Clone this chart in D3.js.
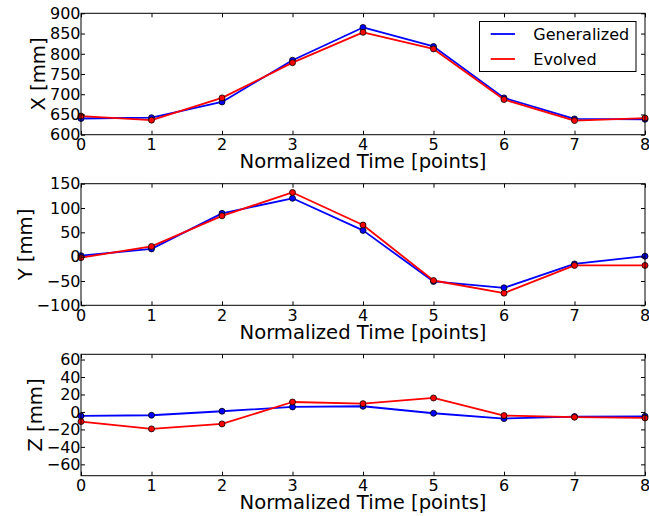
<!DOCTYPE html>
<html>
<head>
<meta charset="utf-8">
<script src="https://cdn.jsdelivr.net/npm/d3@7"></script>
<style>
  html, body { margin: 0; padding: 0; background: #fff; }
  svg { display: block; font-family: "DejaVu Sans", sans-serif; }
</style>
</head>
<body>
<svg id="chart" width="649" height="516"></svg>
<script>
// Normalized time points shared by all three panels
const timePoints = [0, 1, 2, 3, 4, 5, 6, 7, 8];

// Generalized vs evolved trajectory, per coordinate (mm)
const xGeneralized = [640, 642, 681, 784, 865, 818, 691, 639, 638];
const xEvolved     = [646, 636, 691, 778, 853, 812, 687, 635, 641];

const yGeneralized = [2, 16, 89, 120, 54, -51, -64, -15, 1];
const yEvolved     = [-2, 21, 84, 132, 65, -49, -75, -18, -18];

const zGeneralized = [-4.6, -3.8, 0.8, 5.7, 6.5, -1.5, -7.6, -5.3, -5];
const zEvolved     = [-11, -19.4, -13.7, 11.4, 9.5, 16, -4.2, -6, -6.9];

// Tick values for each panel
const xTicks = [600, 650, 700, 750, 800, 850, 900];
const yTicks = [-100, -50, 0, 50, 100, 150];
const zTicks = [-60, -40, -20, 0, 20, 40, 60];

const seriesNames = ["Generalized", "Evolved"];
const seriesColors = ["#0000ff", "#ff0000"];

const svg = d3.select("#chart");
const left = 81, right = 645;

const xScale = d3.scaleLinear().domain([0, 8]).range([left, right]);

const panels = [
  { label: "X [mm]", top: 13.3, bottom: 134.7, domain: [600, 900], ticks: xTicks, series: [xGeneralized, xEvolved], legend: true },
  { label: "Y [mm]", top: 183.7, bottom: 305.3, domain: [-100, 150], ticks: yTicks, series: [yGeneralized, yEvolved] },
  { label: "Z [mm]", top: 354.3, bottom: 475.7, domain: [-73, 66], ticks: zTicks, series: [zGeneralized, zEvolved] }
];

const fmt = v => (v < 0 ? "\u2212" + Math.abs(v) : String(v));

panels.forEach(p => {
  const g = svg.append("g");
  const yScale = d3.scaleLinear().domain(p.domain).range([p.bottom, p.top]);
  const h = p.bottom - p.top;

  // data lines and markers
  p.series.forEach((vals, si) => {
    const pts = timePoints.map((t, i) => [xScale(t), yScale(vals[i])]);
    g.append("path")
      .attr("d", d3.line()(pts))
      .attr("fill", "none")
      .attr("stroke", seriesColors[si])
      .attr("stroke-width", 1.8)
      .attr("stroke-linejoin", "round");
    g.selectAll(null).data(pts).enter().append("circle")
      .attr("cx", d => d[0]).attr("cy", d => d[1])
      .attr("r", 3)
      .attr("fill", seriesColors[si])
      .attr("stroke", "#000")
      .attr("stroke-width", 0.8);
  });

  // inward ticks on all four sides
  const bottomAxis = d3.axisBottom(xScale).tickValues(timePoints).tickSizeInner(-4).tickSizeOuter(0).tickFormat("");
  const topAxis = d3.axisTop(xScale).tickValues(timePoints).tickSizeInner(-4).tickSizeOuter(0).tickFormat("");
  const leftAxis = d3.axisLeft(yScale).tickValues(p.ticks).tickSizeInner(-4).tickSizeOuter(0).tickFormat("");
  const rightAxis = d3.axisRight(yScale).tickValues(p.ticks).tickSizeInner(-4).tickSizeOuter(0).tickFormat("");

  [[bottomAxis, `translate(0,${p.bottom})`], [topAxis, `translate(0,${p.top})`],
   [leftAxis, `translate(${left},0)`], [rightAxis, `translate(${right},0)`]].forEach(([ax, tr]) => {
    const a = g.append("g").attr("transform", tr).call(ax);
    a.select(".domain").remove();
    a.selectAll("line").attr("stroke", "#000").attr("stroke-width", 1);
  });

  // frame
  g.append("rect")
    .attr("x", left).attr("y", p.top)
    .attr("width", right - left).attr("height", h)
    .attr("fill", "none").attr("stroke", "#000").attr("stroke-width", 1);

  // x tick labels
  g.append("g").selectAll("text").data(timePoints).enter().append("text")
    .attr("x", d => xScale(d)).attr("y", p.bottom + 15.3)
    .attr("text-anchor", "middle")
    .attr("font-size", 16)
    .text(d => d);

  // y tick labels
  const yLabels = g.append("g");
  yLabels.selectAll("text").data(p.ticks).enter().append("text")
    .attr("x", left - 0.5).attr("y", d => yScale(d))
    .attr("dy", "0.36em")
    .attr("text-anchor", "end")
    .attr("font-size", 16)
    .text(fmt);

  // axis titles
  g.append("text")
    .attr("x", (left + right) / 2).attr("y", p.bottom + 33.5)
    .attr("text-anchor", "middle")
    .attr("font-size", 19.6)
    .text("Normalized Time [points]");

  const bb = yLabels.node().getBBox();
  const lx = bb.x - 5;
  g.append("text")
    .attr("transform", `translate(${lx},${(p.top + p.bottom) / 2}) rotate(-90)`)
    .attr("text-anchor", "middle")
    .attr("font-size", 19.6)
    .text(p.label);

  // legend
  if (p.legend) {
    const lg = g.append("g");
    lg.append("rect")
      .attr("x", 479.5).attr("y", 21.5).attr("width", 156.5).attr("height", 50)
      .attr("fill", "#fff").attr("stroke", "#000").attr("stroke-width", 1);
    seriesNames.forEach((name, i) => {
      const ly = 34 + i * 25;
      lg.append("line")
        .attr("x1", 490.7).attr("x2", 515).attr("y1", ly).attr("y2", ly)
        .attr("stroke", seriesColors[i]).attr("stroke-width", 1.8);
      lg.append("text")
        .attr("x", 533.3).attr("y", ly).attr("dy", "0.36em")
        .attr("font-size", 16)
        .text(name);
    });
  }
});
</script>
</body>
</html>
